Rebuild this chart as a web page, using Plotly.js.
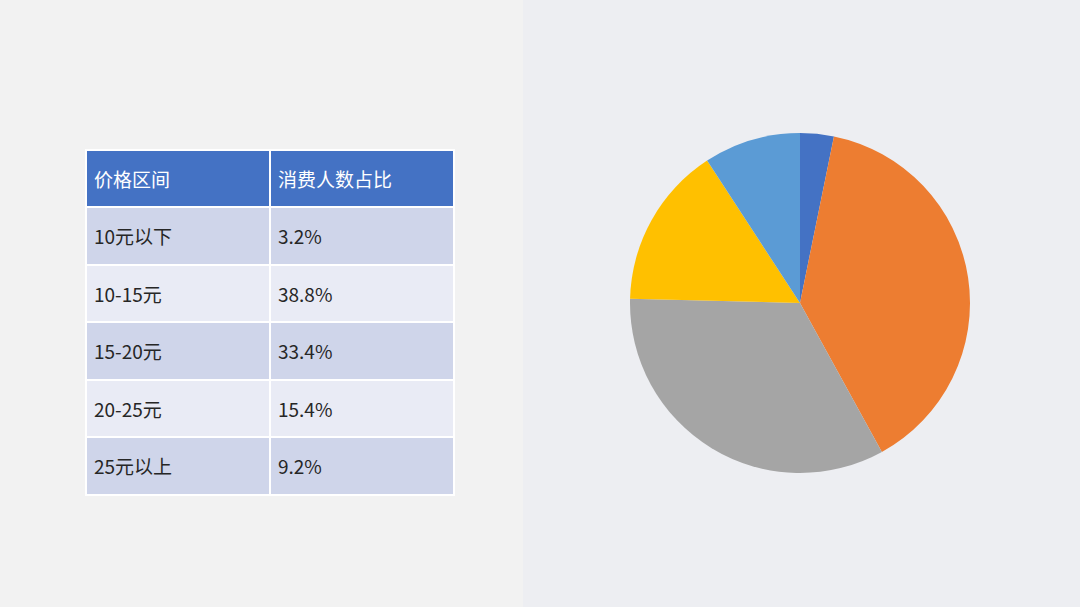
<!DOCTYPE html>
<html>
<head>
<meta charset="utf-8">
<script src="https://cdn.plot.ly/plotly-3.0.1.min.js"></script>
<style>
  html, body { margin: 0; padding: 0; background: #f2f2f2; }
  #chart { width: 1080px; height: 607px; }
</style>
</head>
<body>
<div id="chart"></div>
<script>
const headers = ["价格区间", "消费人数占比"];
const priceRanges = ["10元以下", "10-15元", "15-20元", "20-25元", "25元以上"];
const shares = [3.2, 38.8, 33.4, 15.4, 9.2];
const sliceColors = ["#4472c4", "#ed7d31", "#a5a5a5", "#ffc000", "#5b9bd5"];

const W = 1080, H = 607;
const cjk = '"Noto Sans CJK SC", "Noto Sans", sans-serif';
const tableTop = 150, tableBottom = 496;
// plotly puts cell text at the top, so the text layer sits a bit lower
const textDrop = 15;

const rowFills = priceRanges.map((_, i) => (i % 2 === 0 ? "#cfd5ea" : "#e9ebf5"));
const shareLabels = shares.map((v) => v.toFixed(1) + "%");
const blank = (arr) => arr.map(() => "");

// grid: fills and white lines, no text
const grid = {
  type: "table",
  domain: { x: [86 / W, 454 / W], y: [1 - tableBottom / H, 1 - tableTop / H] },
  columnwidth: [1, 1],
  header: {
    values: blank(headers),
    height: 57,
    fill: { color: "#4472c4" },
    line: { color: "#ffffff", width: 2 },
  },
  cells: {
    values: [blank(priceRanges), blank(shareLabels)],
    height: 57.5,
    fill: { color: [rowFills, rowFills] },
    line: { color: "#ffffff", width: 2 },
  },
};

// text layer on top
const clear = "rgba(0,0,0,0)";
const labels = {
  type: "table",
  domain: {
    x: [86 / W, 454 / W],
    y: [1 - (tableBottom + textDrop) / H, 1 - (tableTop + textDrop) / H],
  },
  columnwidth: [1, 1],
  header: {
    values: headers,
    align: "left",
    height: 57,
    fill: { color: clear },
    line: { color: clear, width: 0 },
    font: { family: cjk, size: 19, color: "#ffffff" },
  },
  cells: {
    values: [priceRanges, shareLabels],
    align: "left",
    height: 57.5,
    fill: { color: clear },
    line: { color: clear, width: 0 },
    font: { family: cjk, size: 19, color: "#262626" },
  },
};

const pie = {
  type: "pie",
  labels: priceRanges,
  values: shares,
  sort: false,
  direction: "clockwise",
  rotation: 0,
  marker: { colors: sliceColors, line: { width: 0 } },
  textinfo: "none",
  hoverinfo: "label+percent",
  domain: { x: [630 / W, 970 / W], y: [1 - 473 / H, 1 - 133 / H] },
};

const layout = {
  width: W,
  height: H,
  margin: { l: 0, r: 0, t: 0, b: 0 },
  paper_bgcolor: "#f2f2f2",
  showlegend: false,
  shapes: [
    {
      type: "rect",
      xref: "paper",
      yref: "paper",
      x0: 523 / W,
      x1: 1,
      y0: 0,
      y1: 1,
      fillcolor: "#edeef2",
      line: { width: 0 },
      layer: "below",
    },
  ],
};

Plotly.newPlot("chart", [grid, labels, pie], layout, { displayModeBar: false, staticPlot: true });
</script>
</body>
</html>
